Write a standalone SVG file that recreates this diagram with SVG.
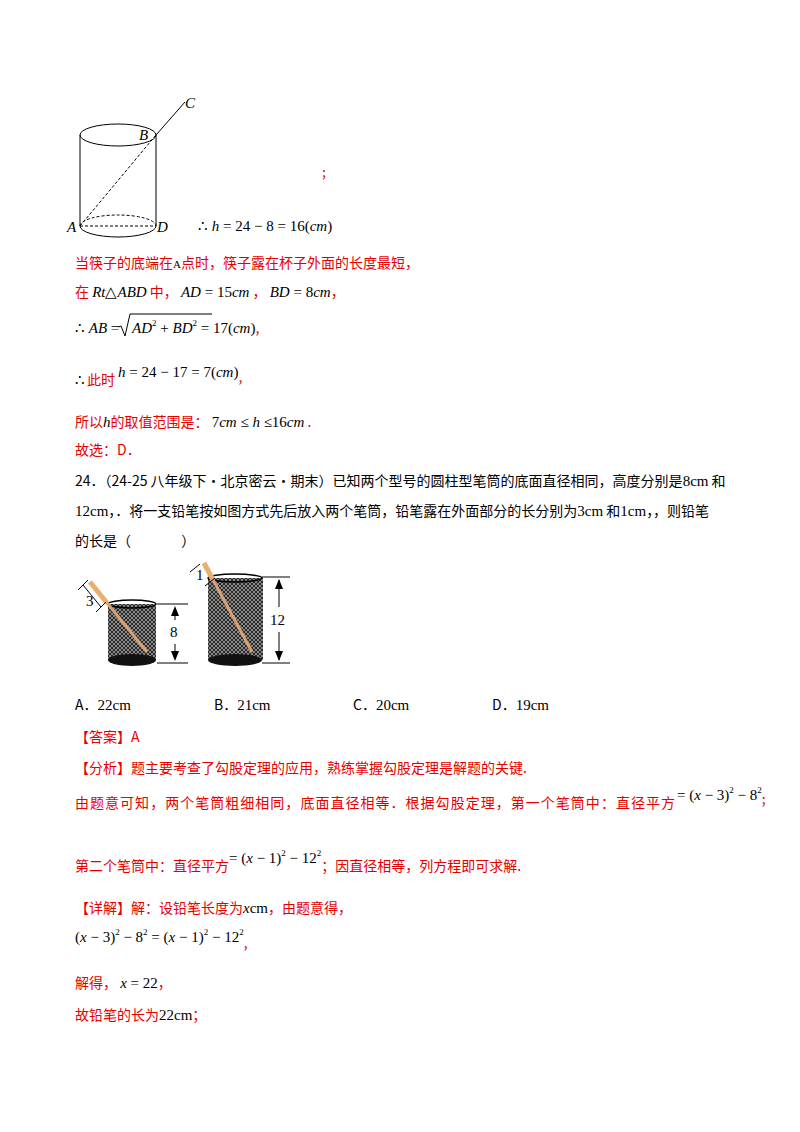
<svg xmlns="http://www.w3.org/2000/svg" width="800" height="1132" viewBox="0 0 800 1132">
<style>
.t{font-family:"Noto Sans CJK SC","Noto Sans",sans-serif;font-size:14px;fill:#000}
.r{font-family:"Noto Sans CJK SC","Noto Sans",sans-serif;font-size:14px;fill:#e60000}
.m{font-family:"Liberation Serif",serif;font-size:15px;fill:#000}
.mi{font-family:"Liberation Serif",serif;font-size:15px;font-style:italic;fill:#000}
.s{font-size:9px}
.ln{stroke:#000;stroke-width:1;fill:none}
</style>
<defs>
<pattern id="mesh" width="4" height="4" patternUnits="userSpaceOnUse">
<rect width="4" height="4" fill="#888"/>
<path d="M0 0L4 4M4 0L0 4" stroke="#111" stroke-width="0.8"/>
</pattern>
</defs>
<rect width="800" height="1132" fill="#fff"/>
<g id="cylinder">
<ellipse cx="118" cy="135" rx="38" ry="11" class="ln"/>
<line x1="80" y1="135" x2="80" y2="226" class="ln"/>
<line x1="156" y1="135" x2="156" y2="226" class="ln"/>
<path d="M80 226A38 11 0 0 0 156 226" class="ln"/>
<path d="M80 226A38 11 0 0 1 156 226" class="ln" stroke-dasharray="3,2"/>
<line x1="80" y1="226" x2="156" y2="226" class="ln" stroke-dasharray="3,2"/>
<line x1="80" y1="226" x2="156" y2="135" class="ln" stroke-dasharray="3,2"/>
<line x1="156" y1="135" x2="185" y2="102" class="ln"/>
<text x="185" y="108" class="mi">C</text>
<text x="139" y="140" class="mi">B</text>
<text x="67" y="232" class="mi">A</text>
<text x="157" y="232" class="mi">D</text>
</g>
<text x="198" y="231" class="m">∴ <tspan font-style="italic">h</tspan> = 24 − 8 = 16(<tspan font-style="italic">cm</tspan>)</text>
<text x="322" y="177" class="r">;</text>
<text x="75" y="268" class="r">当筷子的底端在<tspan class="m" style="fill:#000;font-size:11px">A</tspan>点时，筷子露在杯子外面的长度最短，</text>
<text x="75" y="297" class="r">在 <tspan class="mi">Rt</tspan><tspan class="m" font-size="11">△</tspan><tspan class="mi">ABD</tspan> 中， <tspan class="mi">AD</tspan><tspan class="m"> = 15</tspan><tspan class="mi">cm</tspan> ，  <tspan class="mi">BD</tspan><tspan class="m"> = 8</tspan><tspan class="mi">cm</tspan>，</text>
<text x="75" y="333" class="m">∴ <tspan font-style="italic">AB</tspan> = </text>
<path d="M118 327l3 -1 4 10 5 -22h82" class="ln"/>
<text x="132" y="333" class="m"><tspan font-style="italic">AD</tspan><tspan class="s" dy="-7">2</tspan><tspan dy="7"> + </tspan><tspan font-style="italic">BD</tspan><tspan class="s" dy="-7">2</tspan><tspan dy="7"> = 17(</tspan><tspan font-style="italic">cm</tspan>)<tspan class="r">,</tspan></text>
<text x="75" y="385" class="m">∴<tspan class="r" dx="2">此时</tspan></text>
<text x="118" y="377" class="m"><tspan font-style="italic">h</tspan> = 24 − 17 = 7(<tspan font-style="italic">cm</tspan>)<tspan class="r" dy="5">,</tspan></text>
<text x="75" y="427" class="r">所以<tspan class="mi">h</tspan>的取值范围是： <tspan class="m">7</tspan><tspan class="mi">cm</tspan><tspan class="m"> ≤ </tspan><tspan class="mi">h</tspan><tspan class="m"> ≤16</tspan><tspan class="mi">cm</tspan> .</text>
<text x="75" y="455" class="r">故选：D．</text>
<text x="75" y="486" class="t">24．（24-25 八年级下·北京密云·期末）已知两个型号的圆柱型笔筒的底面直径相同，高度分别是<tspan class="m" font-size="13">8cm</tspan> 和</text>
<text x="75" y="516" class="t"><tspan class="m">12cm</tspan>，．将一支铅笔按如图方式先后放入两个笔筒，铅笔露在外面部分的长分别为<tspan class="m">3cm</tspan> 和<tspan class="m">1cm</tspan>，，则铅笔</text>
<text x="75" y="546" class="t" xml:space="preserve">的长是（                ）</text>
<g id="cup1">
<rect x="108" y="604" width="48" height="56" fill="url(#mesh)"/>
<ellipse cx="132" cy="604" rx="24" ry="4" fill="none" stroke="#000" stroke-width="1.5"/>
<ellipse cx="132" cy="660" rx="24" ry="6" fill="#111"/>
<line x1="90" y1="582" x2="147" y2="652" stroke="#d9a070" stroke-width="3"/>
<line x1="90" y1="582" x2="107" y2="603" stroke="#e8b070" stroke-width="5"/>
<path d="M78 590l10 -10M96 612l10 -10M83 585l18 22" class="ln"/>
<text x="86" y="606" class="m">3</text>
</g>
<g id="cup2">
<rect x="208" y="578" width="55" height="82" fill="url(#mesh)"/>
<ellipse cx="235" cy="578" rx="27" ry="4" fill="none" stroke="#000" stroke-width="1.5"/>
<ellipse cx="235" cy="660" rx="27" ry="6" fill="#111"/>
<line x1="204" y1="563" x2="252" y2="652" stroke="#d9a070" stroke-width="3"/>
<line x1="204" y1="563" x2="213" y2="580" stroke="#e8b070" stroke-width="5"/>
<path d="M190 572l10 -8M205 586l10 -8" class="ln"/>
<text x="196" y="580" class="m">1</text>
</g>
<g id="connectors">
<line x1="157" y1="604" x2="188" y2="604" class="ln"/>
<line x1="157" y1="663" x2="188" y2="663" class="ln"/>
<line x1="175" y1="608" x2="175" y2="620" class="ln"/>
<line x1="175" y1="644" x2="175" y2="659" class="ln"/>
<path d="M175 606l-4 10h8z M175 661l-4 -10h8z" fill="#000"/>
<text x="170" y="637" class="m">8</text>
<line x1="262" y1="577" x2="290" y2="577" class="ln"/>
<line x1="262" y1="663" x2="290" y2="663" class="ln"/>
<line x1="279" y1="580" x2="279" y2="607" class="ln"/>
<line x1="279" y1="632" x2="279" y2="660" class="ln"/>
<path d="M279 579l-4 10h8z M279 661l-4 -10h8z" fill="#000"/>
<text x="270" y="625" class="m">12</text>
</g>
<text x="75" y="710" class="t">A．<tspan class="m">22cm</tspan></text>
<text x="214" y="710" class="t">B．<tspan class="m">21cm</tspan></text>
<text x="353" y="710" class="t">C．<tspan class="m">20cm</tspan></text>
<text x="492" y="710" class="t">D．<tspan class="m">19cm</tspan></text>
<text x="75" y="742" class="r">【答案】A</text>
<text x="75" y="773" class="r">【分析】题主要考查了勾股定理的应用，熟练掌握勾股定理是解题的关键.</text>
<text x="75" y="808" class="r" textLength="600">由题意可知，两个笔筒粗细相同，底面直径相等．根据勾股定理，第一个笔筒中：直径平方</text>
<text x="677" y="800" class="m">= (<tspan font-style="italic">x</tspan> − 3)<tspan class="s" dy="-7">2</tspan><tspan dy="7"> − 8</tspan><tspan class="s" dy="-7">2</tspan><tspan class="r" dy="11">;</tspan></text>
<text x="75" y="871" class="r">第二个笔筒中：直径平方</text>
<text x="229" y="863" class="m">= (<tspan font-style="italic">x</tspan> − 1)<tspan class="s" dy="-7">2</tspan><tspan dy="7"> − 12</tspan><tspan class="s" dy="-7">2</tspan><tspan class="r" dy="15">；因直径相等，列方程即可求解.</tspan></text>
<text x="75" y="913" class="r">【详解】解：设铅笔长度为<tspan class="mi">x</tspan><tspan class="m" style="fill:#000">cm</tspan>，由题意得，</text>
<text x="75" y="942" class="m">(<tspan font-style="italic">x</tspan> − 3)<tspan class="s" dy="-7">2</tspan><tspan dy="7"> − 8</tspan><tspan class="s" dy="-7">2</tspan><tspan dy="7"> = (</tspan><tspan font-style="italic">x</tspan> − 1)<tspan class="s" dy="-7">2</tspan><tspan dy="7"> − 12</tspan><tspan class="s" dy="-7">2</tspan><tspan class="r" dy="13">,</tspan></text>
<text x="75" y="988" class="r">解得， <tspan class="mi">x</tspan><tspan class="m"> = 22</tspan>，</text>
<text x="75" y="1020" class="r">故铅笔的长为<tspan class="m" style="fill:#000">22cm</tspan>；</text>
</svg>
